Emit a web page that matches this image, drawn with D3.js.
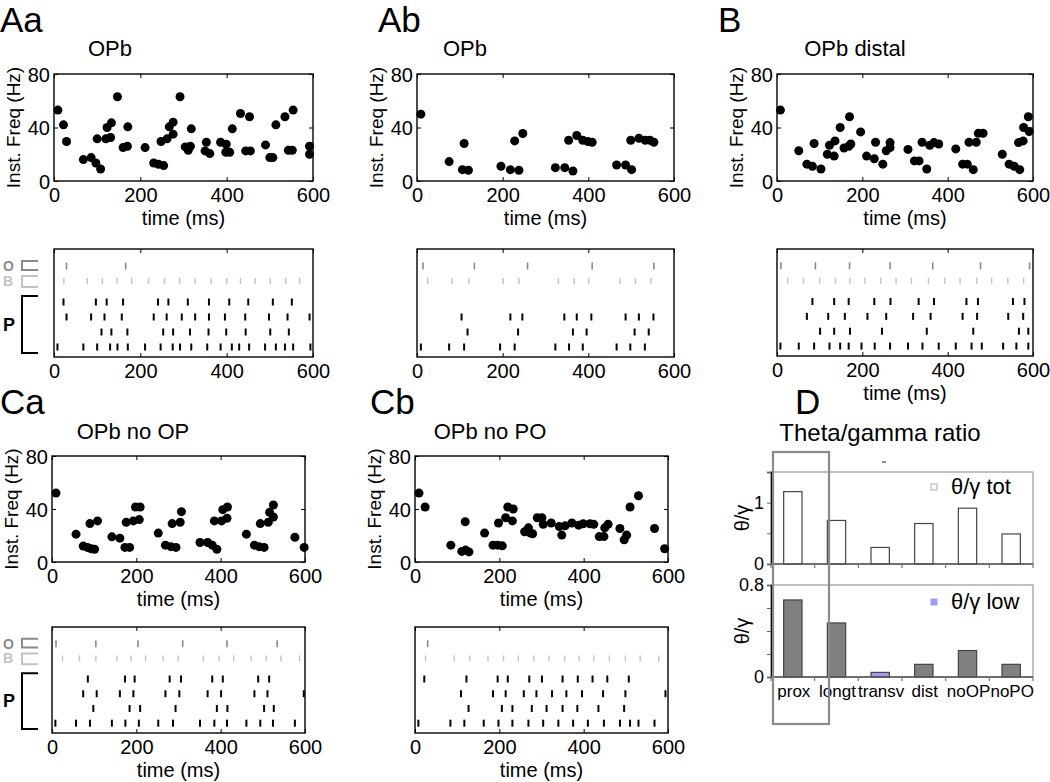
<!DOCTYPE html>
<html>
<head>
<meta charset="utf-8">
<script src="https://cdn.jsdelivr.net/npm/d3@7"></script>
<style>
  body { margin: 0; background: #fff; }
  text { font-family: "Liberation Sans", Arial, sans-serif; }
</style>
</head>
<body>
<svg width="1050" height="782"></svg>
<script>
// ---- data ----
const timeTicks = [0, 200, 400, 600]
const freqTicks = [0, 40, 80]

// instantaneous frequency scatter (time ms, freq Hz)
const aaTime = [9,22,29,68,86,97,108,100,120,123,133,131,147,160,170,171,211,231,242,254,248,262,267,276,276,292,304,311,316,318,350,353,361,386,399,398,407,413,432,444,455,453,490,500,507,514,535,543,552,554,592,592]
const aaFreq = [53,42,29.5,16,17.5,13.5,9,31.5,31.5,40,43.5,32.5,63,25,26,40.5,25,13.5,12.5,11.5,29.5,31.5,40.5,44,35,63,25.5,23,26,39,22.5,29,20.5,29,27.5,21.5,21.5,39,50.5,22.5,22.5,48,27,17.5,17.5,42,48,23,23,53,26,20]

const abTime = [9,75,106,110,120,196,218,228,238,247,323,345,364,354,373,387,399,409,466,487,501,499,518,533,544,553]
const abFreq = [50,14.5,8.5,28,8,11,8.5,30,8,35.5,10,10,7.5,30.5,34,30.5,29.5,29,12,12,8.5,30.5,32,30.5,30.5,29]

const bTime = [8,51,70,83,87,103,118,123,134,136,148,157,168,170,173,196,210,228,231,248,256,265,265,307,322,333,340,351,358,368,379,419,435,446,450,460,467,472,483,528,544,556,566,569,577,578,589,591]
const bFreq = [53,22.6,12.6,11,28,9,20,26.7,18.6,30,40,24.7,26,48,27.7,36.7,18.6,16.6,29,12.6,22.6,25,28.7,23.6,15,15,29,9,26.7,28.7,27.7,24,12.6,12.6,29,8.5,29,35.7,35.7,20,12.6,11,28.7,8.5,30,40,48,37]

const caTime = [9.5,57,74,84,93,101,90,108,142,161,173,184,176,193,198,209,207,252,269,282,294,285,304,307,351,369,380,391,385,402,405,416,415,461,480,491,503,494,513,516,525,525,576,598]
const caFreq = [52,21,12,11,10,9.6,29,31,19,18,11,11,30,31,41.5,41.5,32,21.8,12.7,11.6,11,29,30,38,14.7,14.7,12.7,9.6,31,31,39.5,41.5,33,21,12.7,11.6,11,29,30,37.5,34,43,18.7,11]

const cbTime = [9.5,24,85,111,120,128,119,165,185,196,207,198,215,220,233,231,260,269,274,279,290,301,304,323,342,348,356,372,388,399,415,424,437,448,450,458,486,496,502,510,530,568,592]
const cbFreq = [52,41.5,12.7,8,9,7.6,30.4,21.8,12.7,12.7,12.2,29.4,33.4,41.5,40,31,22.8,25.8,21.8,21.3,33.4,33.4,28.4,29.4,26.8,20.3,27.3,29.4,27.8,28.9,28.9,28.4,19.2,19.2,25.8,28.4,25.3,16.7,20.3,41.5,50,25.3,10]

// spike rasters: O cell, B cell, four P cells (spike times, ms)
const aaO = [29,166]
const aaB = [23,77,112,146,180,219,256,291,327,364,400,432,466,501,537,569]
const aaP = [
  [22,97,122,160,241,265,310,359,406,450,507,551],
  [29,86,117,157,231,261,296,327,359,396,443,498,541,592],
  [110,133,170,253,276,315,358,399,444,501,544],
  [8,68,100,130,147,171,211,247,275,292,318,355,386,412,429,452,489,514,535,554,594]
]
const abO = [14,134,258,409,553]
const abB = [25,82,121,201,238,330,367,401,474,510,546]
const abP = [
  [],
  [104,218,246,344,373,407,487,518,552],
  [118,236,364,396,508,541],
  [9,75,110,194,228,323,355,387,466,498,532]
]
const bO = [9,90,170,265,365,477,592]
const bB = [25,62,100,137,171,206,243,279,315,355,393,429,468,503,541,578]
const bP = [
  [83,134,168,228,266,332,368,444,471,553,580],
  [70,120,159,212,256,319,360,435,469,542,577],
  [101,134,171,246,351,460,567,589],
  [8,51,87,123,148,168,198,229,265,307,341,379,419,456,480,530,561,589]
]
const caO = [9.5,104,204,310,415,534]
const caB = [25,65,104,154,187,222,263,299,359,396,431,472,508,543,587]
const caP = [
  [85,173,196,279,306,380,405,489,515],
  [74,106,161,193,269,302,369,401,480,511,597],
  [98,184,209,293,391,416,503,526],
  [8,57,90,142,174,206,252,287,351,385,415,461,494,524,576]
]
const cbO = [30]
const cbB = [25,93,130,173,210,245,282,318,355,389,424,461,499,534,578]
const cbP = [
  [22,122,196,220,271,301,350,386,421,456,507],
  [109,185,215,258,288,325,359,396,446,499,594],
  [127,206,231,277,312,350,385,435,496],
  [8,84,117,163,198,231,269,304,340,375,410,448,486,510,530,568]
]

// theta/gamma ratio
const ratioCats = ['prox', 'longt', 'transv', 'dist', 'noOP', 'noPO']
const ratioTot = [1.18, 0.71, 0.27, 0.66, 0.91, 0.49]
const ratioLow = [0.67, 0.47, 0.04, 0.11, 0.23, 0.11]

// ---- layout ----
const svg = d3.select('svg')

const panels = [
  { letter: 'Aa', lx: 0, ly: 32, title: 'OPb', tx: 110, ty: 56, t: aaTime, f: aaFreq, o: aaO, b: aaB, p: aaP,
    x0: 54, x1: 313, s0: 74, s1: 181, r0: 249, r1: 357, ylabX: 20, rowLabels: true, rasterLabel: false },
  { letter: 'Ab', lx: 378, ly: 32, title: 'OPb', tx: 465, ty: 56, t: abTime, f: abFreq, o: abO, b: abB, p: abP,
    x0: 417, x1: 674, s0: 74, s1: 181, r0: 249, r1: 357, ylabX: 383, rowLabels: false, rasterLabel: false },
  { letter: 'B', lx: 718, ly: 32, title: 'OPb distal', tx: 855, ty: 56, t: bTime, f: bFreq, o: bO, b: bB, p: bP,
    x0: 777, x1: 1033, s0: 74, s1: 181, r0: 249, r1: 356, ylabX: 743, rowLabels: false, rasterLabel: true },
  { letter: 'Ca', lx: 0, ly: 414, title: 'OPb no OP', tx: 133, ty: 439, t: caTime, f: caFreq, o: caO, b: caB, p: caP,
    x0: 52, x1: 305, s0: 456, s1: 562, r0: 627, r1: 733, ylabX: 18, rowLabels: true, rasterLabel: true },
  { letter: 'Cb', lx: 370, ly: 414, title: 'OPb no PO', tx: 490, ty: 439, t: cbTime, f: cbFreq, o: cbO, b: cbB, p: cbP,
    x0: 415, x1: 668, s0: 456, s1: 562, r0: 627, r1: 733, ylabX: 381, rowLabels: false, rasterLabel: true }
]

function styleAxis(g) {
  g.select('.domain').remove()
  g.selectAll('line').attr('stroke', '#000')
  g.selectAll('text').attr('font-size', 20).attr('fill', '#000')
}

panels.forEach(p => {
  const x = d3.scaleLinear().domain([0, 600]).range([p.x0, p.x1])
  const y = d3.scaleLinear().domain([0, 80]).range([p.s1, p.s0])

  svg.append('text').attr('x', p.lx).attr('y', p.ly).attr('font-size', 35).text(p.letter)
  svg.append('text').attr('x', p.tx).attr('y', p.ty).attr('font-size', 22)
    .attr('text-anchor', 'middle').text(p.title)

  // scatter
  svg.append('g').attr('transform', `translate(0,${p.s1})`)
    .call(d3.axisBottom(x).tickValues(timeTicks).tickSize(-4).tickPadding(7)).call(styleAxis)
  svg.append('g').attr('transform', `translate(0,${p.s0})`)
    .call(d3.axisTop(x).tickValues(timeTicks).tickSize(-4).tickFormat('')).call(styleAxis)
  svg.append('g').attr('transform', `translate(${p.x0},0)`)
    .call(d3.axisLeft(y).tickValues(freqTicks).tickSize(-4).tickPadding(4)).call(styleAxis)
    .selectAll('text').attr('dy', '0.36em')
  svg.append('g').attr('transform', `translate(${p.x1},0)`)
    .call(d3.axisRight(y).tickValues(freqTicks).tickSize(-4).tickFormat('')).call(styleAxis)
  svg.append('rect').attr('x', p.x0).attr('y', p.s0)
    .attr('width', p.x1 - p.x0).attr('height', p.s1 - p.s0)
    .attr('fill', 'none').attr('stroke', '#000').attr('stroke-width', 1.4)

  svg.append('g').selectAll('circle')
    .data(d3.zip(p.t, p.f))
    .join('circle')
    .attr('cx', d => x(d[0])).attr('cy', d => y(d[1]))
    .attr('r', 4.5).attr('fill', '#000')

  svg.append('text')
    .attr('transform', `translate(${p.ylabX},${(p.s0 + p.s1) / 2}) rotate(-90)`)
    .attr('text-anchor', 'middle').attr('font-size', 19).text('Inst. Freq (Hz)')
  svg.append('text').attr('x', (p.x0 + p.x1) / 2).attr('y', p.s1 + 44)
    .attr('text-anchor', 'middle').attr('font-size', 20).text('time (ms)')

  // raster
  const rh = p.r1 - p.r0
  const rowY = i => p.r0 + (2 + 15 * (i + 1) + (i > 1 ? 6 : 0)) / 108 * rh
  const xr = x.copy()
  svg.append('g').attr('transform', `translate(0,${p.r1})`)
    .call(d3.axisBottom(xr).tickValues(timeTicks).tickSize(-4).tickPadding(7)).call(styleAxis)
  svg.append('g').attr('transform', `translate(0,${p.r0})`)
    .call(d3.axisTop(xr).tickValues(timeTicks).tickSize(-4).tickFormat('')).call(styleAxis)
  svg.append('rect').attr('x', p.x0).attr('y', p.r0)
    .attr('width', p.x1 - p.x0).attr('height', rh)
    .attr('fill', 'none').attr('stroke', '#000').attr('stroke-width', 1.4)

  const rows = [
    { spikes: p.o, color: '#8a8a8a', w: 1.6, h: 7 },
    { spikes: p.b, color: '#c2c2c2', w: 1.4, h: 6 },
    ...p.p.map(s => ({ spikes: s, color: '#000', w: 2, h: 7 }))
  ]
  rows.forEach((row, i) => {
    svg.append('g').selectAll('line')
      .data(row.spikes)
      .join('line')
      .attr('x1', d => xr(d)).attr('x2', d => xr(d))
      .attr('y1', rowY(i) - row.h / 2).attr('y2', rowY(i) + row.h / 2)
      .attr('stroke', row.color).attr('stroke-width', row.w)
  })

  if (p.rasterLabel) {
    svg.append('text').attr('x', (p.x0 + p.x1) / 2).attr('y', p.r1 + 44)
      .attr('text-anchor', 'middle').attr('font-size', 20).text('time (ms)')
  }

  if (p.rowLabels) {
    const k = rh / 108
    const oy = rowY(0), by = rowY(1)
    const bracket = (y0, y1, c) => svg.append('path')
      .attr('d', `M38,${y0}H22V${y1}H38`).attr('fill', 'none')
      .attr('stroke', c).attr('stroke-width', 2)
    bracket(oy - 5 * k, oy + 4 * k, '#8a8a8a')
    bracket(by - 5 * k, by + 6 * k, '#c2c2c2')
    bracket(p.r0 + 47 * k, p.r0 + 104 * k, '#000')
    svg.append('text').attr('x', 3).attr('y', oy + 5).attr('font-size', 14)
      .attr('font-weight', 'bold').attr('fill', '#8a8a8a').text('O')
    svg.append('text').attr('x', 3).attr('y', by + 5).attr('font-size', 14)
      .attr('font-weight', 'bold').attr('fill', '#c2c2c2').text('B')
    svg.append('text').attr('x', 3).attr('y', p.r0 + 82 * k).attr('font-size', 18)
      .attr('font-weight', 'bold').attr('fill', '#000').text('P')
  }
})

// ---- D: theta/gamma ratio ----
svg.append('text').attr('x', 795).attr('y', 414).attr('font-size', 35).text('D')
svg.append('text').attr('x', 880).attr('y', 441).attr('font-size', 24)
  .attr('text-anchor', 'middle').text('Theta/gamma ratio')

const dLeft = 771, dRight = 1033
const dx = d3.scaleBand().domain(ratioCats).range([dLeft, dRight])
  .paddingInner(0.58).paddingOuter(0.29)
const bounds = d3.range(ratioCats.length + 1).map(i => dLeft + i * dx.step())

const charts = [
  { values: ratioTot, y: d3.scaleLinear().domain([0, 1.5]).range([564, 472]),
    ticks: [0, 0.5, 1, 1.5], labels: [0, 1], fill: () => '#fff',
    legend: 'θ/γ tot', legendFill: '#fff', legendStroke: '#aaa', ly: 494, labY: 518 },
  { values: ratioLow, y: d3.scaleLinear().domain([0, 0.8]).range([677, 585]),
    ticks: [0, 0.2, 0.4, 0.6, 0.8], labels: [0, 0.8],
    fill: c => c === 'transv' ? '#9d9df2' : '#808080',
    legend: 'θ/γ low', legendFill: '#9d9df2', legendStroke: '#9d9df2', ly: 609, labY: 631 }
]

charts.forEach(ch => {
  const [yb, yt] = ch.y.range()
  svg.append('rect').attr('x', dLeft).attr('y', yt)
    .attr('width', dRight - dLeft).attr('height', yb - yt)
    .attr('fill', 'none').attr('stroke', '#a0a0a0').attr('stroke-width', 1.3)

  svg.append('g').selectAll('rect')
    .data(d3.zip(ratioCats, ch.values))
    .join('rect')
    .attr('x', d => dx(d[0])).attr('width', dx.bandwidth())
    .attr('y', d => ch.y(d[1])).attr('height', d => yb - ch.y(d[1]))
    .attr('fill', d => ch.fill(d[0])).attr('stroke', '#444').attr('stroke-width', 1.2)

  const ya = svg.append('g').attr('transform', `translate(${dLeft},0)`)
    .call(d3.axisLeft(ch.y).tickValues(ch.ticks).tickSize(4).tickPadding(3)
      .tickFormat(v => ch.labels.includes(v) ? v : ''))
  ya.select('.domain').attr('stroke', '#000').attr('stroke-width', 1.3)
  ya.selectAll('line').attr('stroke', '#666')
  ya.selectAll('text').attr('font-size', 18).attr('fill', '#000')

  svg.append('line').attr('x1', dLeft).attr('x2', dRight).attr('y1', yb).attr('y2', yb)
    .attr('stroke', '#555').attr('stroke-width', 1.3)
  svg.append('g').selectAll('line')
    .data(bounds)
    .join('line')
    .attr('x1', d => d).attr('x2', d => d).attr('y1', yb).attr('y2', yb + 4)
    .attr('stroke', '#777').attr('stroke-width', 1.2)

  svg.append('rect').attr('x', 931).attr('y', ch.ly - 10).attr('width', 6).attr('height', 6)
    .attr('fill', ch.legendFill).attr('stroke', ch.legendStroke)
  svg.append('text').attr('x', 951).attr('y', ch.ly).attr('font-size', 22).text(ch.legend)

  svg.append('text')
    .attr('transform', `translate(749,${ch.labY}) rotate(-90)`)
    .attr('text-anchor', 'middle').attr('font-size', 20).text('θ/γ')
})

svg.append('g').selectAll('text')
  .data(ratioCats)
  .join('text')
  .attr('x', d => dx(d) + dx.bandwidth() / 2 + 1).attr('y', 697)
  .attr('text-anchor', 'middle').attr('font-size', 17).text(d => d)

svg.append('line').attr('x1', 882).attr('x2', 886).attr('y1', 462).attr('y2', 462)
  .attr('stroke', '#444').attr('stroke-width', 1.2)

svg.append('rect').attr('x', 773).attr('y', 452).attr('width', 56).attr('height', 272)
  .attr('fill', 'none').attr('stroke', '#8a8a8a').attr('stroke-width', 2.2)
</script>
</body>
</html>
